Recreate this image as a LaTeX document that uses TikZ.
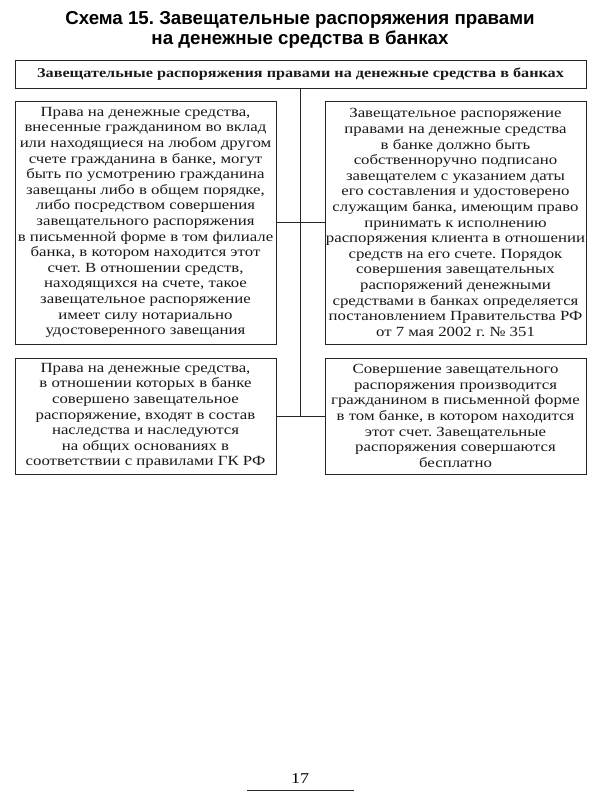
\documentclass[tikz,border=0pt]{standalone}
\usepackage{fontspec}
\setmainfont{Liberation Serif}[FakeStretch=1.2]
\newfontfamily\titlefont{Liberation Sans}
\frenchspacing
\begin{document}
\begin{tikzpicture}[x=1pt,y=-1pt,
  box/.style={draw=black!85, line width=0.9pt, inner sep=0pt, align=center, text=black!90, font=\fontsize{14}{15.6}\selectfont},
  conn/.style={draw=black!85, line width=0.9pt}]
\useasboundingbox (0,0) rectangle (600,800);
\node[font=\titlefont\bfseries\fontsize{18.7}{20.5}\selectfont, align=center] (title) at (300,30) {Схема 15. Завещательные распоряжения правами\\на денежные средства в банках};
\node[box, minimum width=571pt, minimum height=28pt, font=\bfseries\fontsize{13.5}{15}\selectfont] (top) at (300.5,74) {Завещательные распоряжения правами на денежные средства в банках};
\node[box, minimum width=261pt, minimum height=243pt] (ml) at (145.5,222.5) {Права на денежные средства,\\внесенные гражданином во вклад\\или находящиеся на любом другом\\счете гражданина в банке, могут\\быть по усмотрению гражданина\\завещаны либо в общем порядке,\\либо посредством совершения\\завещательного распоряжения\\в письменной форме в том филиале\\банка, в котором находится этот\\счет. В отношении средств,\\находящихся на счете, такое\\завещательное распоряжение\\имеет силу нотариально\\удостоверенного завещания};
\node[box, minimum width=261pt, minimum height=243pt] (mr) at (455.5,222.5) {Завещательное распоряжение\\правами на денежные средства\\в банке должно быть\\собственноручно подписано\\завещателем с указанием даты\\его составления и удостоверено\\служащим банка, имеющим право\\принимать к исполнению\\распоряжения клиента в отношении\\средств на его счете. Порядок\\совершения завещательных\\распоряжений денежными\\средствами в банках определяется\\постановлением Правительства РФ\\от 7 мая 2002 г. № 351};
\node[box, minimum width=261pt, minimum height=116pt] (bl) at (145.5,416) {Права на денежные средства,\\в отношении которых в банке\\совершено завещательное\\распоряжение, входят в состав\\наследства и наследуются\\на общих основаниях в\\соответствии с правилами ГК РФ};
\node[box, minimum width=261pt, minimum height=116pt] (br) at (455.5,416) {Совершение завещательного\\распоряжения производится\\гражданином в письменной форме\\в том банке, в котором находится\\этот счет. Завещательные\\распоряжения совершаются\\бесплатно};
\coordinate (j2) at (300,416);
\draw[conn] (top.south -| j2) -- (j2);
\draw[conn] (ml.east) -- (mr.west);
\draw[conn] (bl.east) -- (br.west);
\node[font=\fontsize{15}{17}\selectfont] (pg) at (300,779) {17};
\coordinate (pl) at (247,790);
\coordinate (pr) at (354,790);
\draw[conn] (pl) -- (pr);
\end{tikzpicture}
\end{document}
